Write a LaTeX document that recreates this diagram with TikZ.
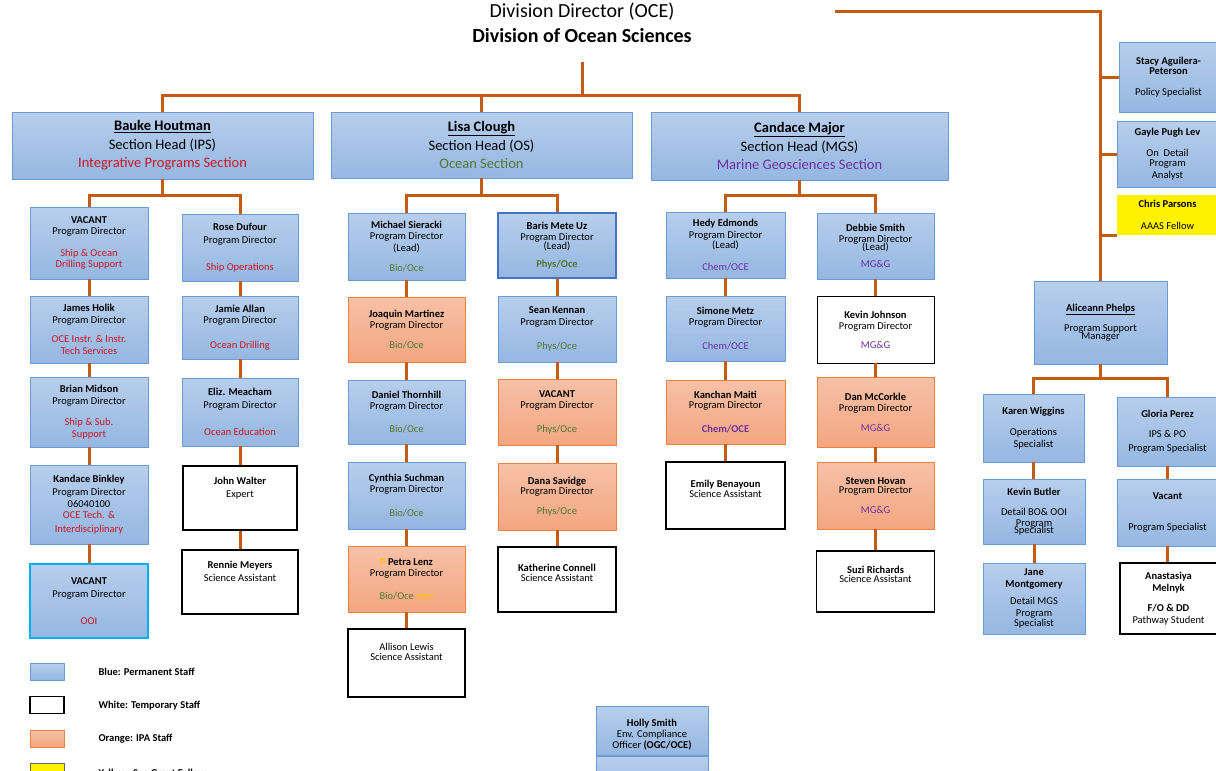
\documentclass[tikz,border=0pt]{standalone}
\usepackage{fontspec}
\setmainfont{Carlito}

\definecolor{linkorange}{RGB}{197,90,17}
\definecolor{permtop}{RGB}{184,206,236}
\definecolor{permbot}{RGB}{148,183,226}
\definecolor{permedge}{RGB}{108,154,210}
\definecolor{ipatop}{RGB}{247,193,168}
\definecolor{ipabot}{RGB}{243,166,128}
\definecolor{ipaedge}{RGB}{240,128,64}
\definecolor{ipsred}{RGB}{204,20,40}
\definecolor{osgreen}{RGB}{84,118,52}
\definecolor{mgspurple}{RGB}{112,48,160}
\definecolor{leadblue}{RGB}{68,114,196}
\definecolor{ooicyan}{RGB}{0,176,240}
\definecolor{petragold}{RGB}{255,192,0}

\newcommand{\tred}[1]{{\color{ipsred}#1}}
\newcommand{\tgreen}[1]{{\color{osgreen}#1}}
\newcommand{\tpurple}[1]{{\color{mgspurple}#1}}

\tikzset{
  link/.style={draw=linkorange, line width=3pt},
  wh/.style 2 args={minimum width=#1pt, minimum height=#2pt},
  cell/.style={inner sep=0pt, align=center, font=\fontsize{10.5}{11.5}\selectfont},
  pbox/.style={cell, draw=permedge, line width=0.8pt, top color=permtop, bottom color=permbot},
  ibox/.style={cell, draw=ipaedge, line width=0.8pt, top color=ipatop, bottom color=ipabot},
  tbox/.style={cell, draw=black, line width=1.6pt, fill=white},
  ybox/.style={cell, fill=yellow},
  secbox/.style={pbox, font=\fontsize{14.5}{18.5}\selectfont},
  legkey/.style={wh={34}{17}, inner sep=0pt},
  legtext/.style={anchor=west, font=\fontsize{10.5}{12}\selectfont\bfseries},
}

\begin{document}
\begin{tikzpicture}[x=1pt, y=-1pt]
  \useasboundingbox (0,0) rectangle (1216,771);
  \clip (0,0) rectangle (1216,771);

  % -------- director --------
  \node[font=\fontsize{20}{25}\selectfont, align=center] (dd) at (582,22.5)
    {Division Director (OCE)\\\textbf{Division of Ocean Sciences}};
  \coordinate (stem) at (582,62);
  \coordinate (ddr) at (835,11);

  % -------- section heads --------
  \node[secbox, wh={301}{67}] (ips) at (162.5,145.5)
    {\textbf{\underline{Bauke Houtman}}\\Section Head (IPS)\\\tred{Integrative Programs Section}};
  \node[secbox, wh={301}{66}] (os) at (481.5,145)
    {\textbf{\underline{Lisa Clough}}\\Section Head (OS)\\\tgreen{Ocean Section}};
  \node[secbox, wh={297}{68}] (mgs) at (799.5,146)
    {\textbf{\underline{Candace Major}}\\Section Head (MGS)\\\tpurple{Marine Geosciences Section}};

  % -------- IPS columns --------
  \node[pbox, wh={118}{72}] (ipsv1) at (89,243)
    {\textbf{VACANT}\\Program Director\\[10pt]\tred{Ship \& Ocean}\\\tred{Drilling Support}};
  \node[pbox, wh={118}{67}] (holik) at (89,329.5)
    {\textbf{James Holik}\\Program Director\\[8pt]\tred{OCE Instr. \& Instr.}\\\tred{Tech Services}};
  \node[pbox, wh={118}{70}] (midson) at (89,412)
    {\textbf{Brian Midson}\\Program Director\\[10pt]\tred{Ship \& Sub.}\\\tred{Support}};
  \node[pbox, wh={118}{79}] (binkley) at (89,504.5)
    {\textbf{Kandace Binkley}\\[1.5pt]Program Director\\[1pt]06040100\\[-0.5pt]\tred{OCE Tech. \&}\\[2pt]\tred{Interdisciplinary}};
  \node[pbox, draw=ooicyan, line width=1.2pt, wh={118}{74}] (ooi) at (89,601)
    {\textbf{VACANT}\\[2pt]Program Director\\[15pt]\tred{OOI}};

  \node[pbox, wh={116}{67}] (dufour) at (240,247.5)
    {\textbf{Rose Dufour}\\[1.5pt]Program Director\\[16pt]\tred{Ship Operations}};
  \node[pbox, wh={116}{63}] (allan) at (240,327.5)
    {\textbf{Jamie Allan}\\Program Director\\[13pt]\tred{Ocean Drilling}};
  \node[pbox, wh={116}{68}] (meacham) at (240,412)
    {\textbf{Eliz. Meacham}\\[1.5pt]Program Director\\[15pt]\tred{Ocean Education}};
  \node[tbox, wh={114}{64}] (walter) at (240,498)
    {\textbf{John Walter}\\[2pt]Expert\\[10pt]~};
  \node[tbox, wh={116}{64}] (meyers) at (240,582)
    {\textbf{Rennie Meyers}\\[2pt]Science Assistant\\[10pt]~};

  % -------- OS columns --------
  \node[pbox, wh={117}{67}] (sieracki) at (406.5,246.5)
    {\textbf{Michael Sieracki}\\Program Director\\(Lead)\\[9pt]\tgreen{Bio/Oce}};
  \node[ibox, wh={117}{65}] (martinez) at (406.5,329.5)
    {\textbf{Joaquin Martinez}\\Program Director\\[8pt]\tgreen{Bio/Oce}};
  \node[pbox, wh={117}{64}] (thornhill) at (406.5,412)
    {\textbf{Daniel Thornhill}\\Program Director\\[11pt]\tgreen{Bio/Oce}};
  \node[pbox, wh={117}{67}] (suchman) at (406.5,495.5)
    {\textbf{Cynthia Suchman}\\Program Director\\[12pt]\tgreen{Bio/Oce}};
  \node[ibox, wh={117}{66}] (lenz) at (406.5,579)
    {\textbf{{\color{petragold}P} Petra Lenz}\\Program Director\\[11pt]\tgreen{Bio/Oce} {\color{petragold}etra}};
  \node[tbox, wh={117}{68}] (lewis) at (406.5,663)
    {Allison Lewis\\[-1.5pt]Science Assistant\\[10pt]~};

  \node[pbox, draw=leadblue, line width=1.8pt, wh={118}{65}] (uz) at (557,245.5)
    {\textbf{Baris Mete Uz}\\Program Director\\[-3pt](Lead)\\[7pt]\textbf{\tgreen{Phys/Oce}}};
  \node[pbox, wh={118}{66}] (kennan) at (557,329)
    {\textbf{Sean Kennan}\\Program Director\\[13pt]\tgreen{Phys/Oce}};
  \node[ibox, wh={118}{66}] (osvac) at (557,412)
    {\textbf{VACANT}\\Program Director\\[12pt]\tgreen{Phys/Oce}};
  \node[ibox, wh={118}{67}] (savidge) at (557,496.5)
    {\textbf{Dana Savidge}\\[-1.5pt]Program Director\\[9pt]\tgreen{Phys/Oce}};
  \node[tbox, wh={118}{65}] (connell) at (557,579.5)
    {\textbf{Katherine Connell}\\[-1.5pt]Science Assistant\\[1.5pt]~};

  % -------- MGS columns --------
  \node[pbox, wh={119}{66}] (edmonds) at (725.5,245)
    {\textbf{Hedy Edmonds}\\Program Director\\[-1pt](Lead)\\[10pt]\tpurple{Chem/OCE}};
  \node[pbox, wh={119}{65}] (metz) at (725.5,328.5)
    {\textbf{Simone Metz}\\Program Director\\[12pt]\tpurple{Chem/OCE}};
  \node[ibox, wh={119}{64}] (maiti) at (725.5,412)
    {\textbf{Kanchan Maiti}\\[-1.5pt]Program Director\\[13pt]\textbf{\tpurple{Chem/OCE}}};
  \node[tbox, wh={119}{67}] (benayoun) at (725.5,495.5)
    {\textbf{Emily Benayoun}\\[-1.5pt]Science Assistant\\[1.5pt]~};

  \node[pbox, wh={117}{66}] (dsmith) at (875.5,246)
    {\textbf{Debbie Smith}\\Program Director\\[-4pt](Lead)\\[6pt]\tpurple{MG\&G}};
  \node[tbox, line width=0.9pt, wh={117}{67}] (kjohnson) at (875.5,329.5)
    {\textbf{Kevin Johnson}\\Program Director\\[7pt]\tpurple{MG\&G}};
  \node[ibox, wh={117}{70}] (mccorkle) at (875.5,412)
    {\textbf{Dan McCorkle}\\Program Director\\[8pt]\tpurple{MG\&G}};
  \node[ibox, wh={117}{67}] (hovan) at (875.5,495.5)
    {\textbf{Steven Hovan}\\[-2.5pt]Program Director\\[9pt]\tpurple{MG\&G}};
  \node[tbox, wh={118}{61}] (richards) at (875.5,581.5)
    {\textbf{Suzi Richards}\\[-2.5pt]Science Assistant\\[2pt]~};

  % -------- staff on the right --------
  \node[pbox, wh={99}{70}] (stacy) at (1168.5,77)
    {\textbf{Stacy Aguilera-}\\[-1.5pt]\textbf{Peterson}\\[10pt]Policy Specialist};
  \node[pbox, wh={101}{66}] (gayle) at (1167.5,154)
    {\textbf{Gayle Pugh Lev}\\[10pt]On~~Detail\\[-1.5pt]Program\\Analyst};
  \node[ybox, wh={101}{40}] (parsons) at (1167.5,215)
    {\textbf{Chris Parsons}\\[10pt]AAAS Fellow};

  \node[pbox, wh={133}{83}] (phelps) at (1100.5,322.5)
    {\textbf{\underline{Aliceann Phelps}}\\[9pt]Program Support\\[-3.5pt]Manager};
  \node[pbox, wh={101}{68}] (wiggins) at (1033.5,428)
    {\textbf{Karen Wiggins}\\[10pt]Operations\\Specialist};
  \node[pbox, wh={102}{65}] (butler) at (1034,511.5)
    {\textbf{Kevin Butler}\\[8pt]Detail BO\& OOI\\Program\\[-5pt]Specialist};
  \node[pbox, wh={102}{71}] (montgomery) at (1034,598.5)
    {\textbf{Jane}\\\textbf{Montgomery}\\[6pt]Detail MGS\\Program\\[-1pt]Specialist};
  \node[pbox, wh={101}{69}] (perez) at (1167.5,431.5)
    {\textbf{Gloria Perez}\\[9pt]IPS \& PO\\[2pt]Program Specialist};
  \node[pbox, wh={101}{67}] (psvac) at (1167.5,512.5)
    {\textbf{Vacant}\\[19pt]Program Specialist};
  \node[tbox, wh={97}{71}] (melnyk) at (1168.5,598.5)
    {\textbf{Anastasiya}\\[0.5pt]\textbf{Melnyk}\\[9pt]\textbf{F/O \& DD}\\Pathway Student};

  % -------- bottom --------
  \node[pbox, wh={112}{49}] (hsmith) at (652,730.5)
    {~\\[3.5pt]\textbf{Holly Smith}\\[-0.5pt]Env. Compliance\\[-0.5pt]Officer \textbf{(OGC/OCE)}};
  \node[pbox, wh={112}{40}] (hsmithlow) at (652,776) {};

  % -------- legend --------
  \node[legkey, pbox] (keyperm) at (47,671.5) {};
  \node[legkey, tbox, line width=1.4pt] (keytemp) at (47,705) {};
  \node[legkey, ibox] (keyipa) at (47,738.5) {};
  \node[legkey, ybox, draw=black!60, line width=0.5pt] (keyfel) at (47,772) {};
  \node[legtext] (lperm) at (95,672) {Blue: Permanent Staff};
  \node[legtext] (ltemp) at (95,705.5) {White: Temporary Staff};
  \node[legtext] (lipa) at (95,739) {Orange: IPA Staff};
  \node[legtext] (lfel) at (95,773) {Yellow: Sea Grant Fellow};

  % -------- connectors --------
  \foreach \s in {ips,os,mgs}
    \draw[link] (stem) -- ++(0,33) -| (\s.north);
  \draw[link] (ips.south) -- ++(0,16) -| (ipsv1.north);
  \draw[link] (ips.south) -- ++(0,16) -| (dufour.north);
  \draw[link] (os.south) -- ++(0,17) -| (sieracki.north);
  \draw[link] (os.south) -- ++(0,17) -| (uz.north);
  \draw[link] (mgs.south) -- ++(0,15) -| (edmonds.north);
  \draw[link] (mgs.south) -- ++(0,15) -| (dsmith.north);

  \foreach \a/\b in {ipsv1/holik, holik/midson, midson/binkley, binkley/ooi,
      dufour/allan, allan/meacham, meacham/walter, walter/meyers,
      sieracki/martinez, martinez/thornhill, thornhill/suchman, suchman/lenz, lenz/lewis,
      uz/kennan, kennan/osvac, osvac/savidge, savidge/connell,
      edmonds/metz, metz/maiti, maiti/benayoun,
      dsmith/kjohnson, kjohnson/mccorkle, mccorkle/hovan, hovan/richards,
      wiggins/butler, butler/montgomery, perez/psvac, psvac/melnyk}
    \draw[link] (\a.south) -- (\a.south |- \b.north);

  \draw[link] (ddr) -| (phelps.north);
  \draw[link] (stacy.west) -- (stacy.west -| phelps.north);
  \draw[link] (gayle.west) -- (gayle.west -| phelps.north);
  \draw[link] (parsons.south west) -- (parsons.south west -| phelps.north);
  \draw[link] (phelps.south) -- ++(0,14) -| (wiggins.north);
  \draw[link] (phelps.south) -- ++(0,14) -| (perez.north);
\end{tikzpicture}
\end{document}
